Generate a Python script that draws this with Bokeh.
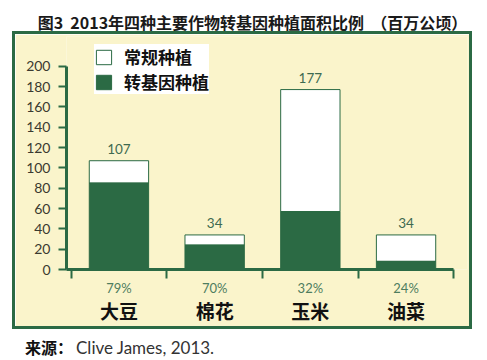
from bokeh.plotting import figure
from bokeh.models import (ColumnDataSource, Range1d, FixedTicker, LabelSet, LinearAxis,
                          Legend, LegendItem, Div)
from bokeh.layouts import column
from bokeh.core.properties import value
from bokeh.embed import file_html
from bokeh.resources import INLINE

# ---- data ----
crops = ["大豆", "棉花", "玉米", "油菜"]
total_area = [107, 34, 177, 34]          # 百万公顷
gm_area = [85, 24, 57, 8]                # 转基因种植面积
gm_share = ["79%", "70%", "32%", "24%"]
y_ticks = [0, 20, 40, 60, 80, 100, 120, 140, 160, 180, 200]
legend_labels = ["常规种植", "转基因种植"]
title_text = "图3  2013年四种主要作物转基因种植面积比例  （百万公顷）"
source_head = "来源："
source_text = "Clive James, 2013."

# ---- style ----
GREEN = "#2B6A44"
CREAM = "#FAF4CB"
VAL_COL = "#3E6A50"
PCT_COL = "#4E7D5F"
CJK = "Noto Sans CJK SC"
NUM = "Lato"

n = len(crops)
centers = [i + 0.5 for i in range(n)]
bounds_x = list(range(n + 1))
src = ColumnDataSource(dict(
    x=centers, total=total_area, gm=gm_area,
    total_str=[str(v) for v in total_area],
))

X0 = -0.048
p = figure(width=454, height=292, x_range=Range1d(X0, 4.142), y_range=Range1d(0, 229.2),
           output_backend="svg", toolbar_location=None,
           min_border_left=51, min_border_right=8, min_border_top=2, min_border_bottom=63,
           background_fill_color=CREAM, border_fill_color=CREAM, outline_line_color=None,
           margin=(0, 0, 0, 12),
           styles={"border": f"3px solid {GREEN}", "box-sizing": "content-box"})

p.xgrid.visible = False
p.ygrid.visible = False

r_conv = p.vbar(x="x", bottom="gm", top="total", width=0.62, source=src,
                fill_color="white", line_color=GREEN, line_width=1)
r_gm = p.vbar(x="x", bottom=0, top="gm", width=0.62, source=src,
              fill_color=GREEN, line_color=GREEN, line_width=1)

legend = Legend(items=[LegendItem(label=legend_labels[0], renderers=[r_conv]),
                       LegendItem(label=legend_labels[1], renderers=[r_gm])],
                location=(28, 175), background_fill_color="white", background_fill_alpha=1,
                border_line_color=None, label_text_font=CJK, label_text_font_style="bold",
                label_text_font_size="17px", label_text_color="#111111",
                glyph_width=19, glyph_height=18, label_height=18, padding=12, spacing=-5,
                label_standoff=11, margin=0)
p.add_layout(legend)

# y axis
ya = p.yaxis[0]
ya.ticker = FixedTicker(ticks=y_ticks)
ya.bounds = (0, 200)
ya.axis_line_color = GREEN
ya.axis_line_width = 3
ya.major_tick_line_color = GREEN
ya.major_tick_line_width = 2
ya.major_tick_out = 8
ya.major_tick_in = 0
ya.minor_tick_line_color = None
ya.major_label_standoff = 8
ya.major_label_text_font = NUM
ya.major_label_text_font_size = "14px"
ya.major_label_text_color = "#3A3A30"

# x axis: boundary ticks (minor) + percentage labels at category centres
xa = p.xaxis[0]
xa.ticker = FixedTicker(ticks=centers, minor_ticks=bounds_x)
xa.bounds = (X0, n)
xa.axis_line_color = GREEN
xa.axis_line_width = 3
xa.major_tick_line_color = None
xa.major_tick_out = 6
xa.major_tick_in = 0
xa.minor_tick_line_color = GREEN
xa.minor_tick_line_width = 2
xa.minor_tick_out = 9
xa.minor_tick_in = 0
xa.major_label_standoff = 1
xa.major_label_overrides = {c: s for c, s in zip(centers, gm_share)}
xa.major_label_text_font = NUM
xa.major_label_text_font_size = "13px"
xa.major_label_text_color = PCT_COL

# second x axis: crop names
xb = LinearAxis(ticker=FixedTicker(ticks=centers),
                major_label_overrides={c: s for c, s in zip(centers, crops)},
                axis_line_color=None, major_tick_line_color=None, minor_tick_line_color=None,
                major_tick_out=0, major_tick_in=0, major_label_standoff=-2,
                major_label_text_font=CJK, major_label_text_font_style="bold",
                major_label_text_font_size="19px", major_label_text_color="#111111")
p.add_layout(xb, "below")

# value labels above bars
p.add_layout(LabelSet(x="x", y="total", text="total_str", source=src, text_align="center",
                      text_baseline="bottom", y_offset=7, text_font=value(NUM),
                      text_font_size="13.5px", text_color=VAL_COL))

title = Div(text=f'<span style="position:relative;top:7px">{title_text}</span>',
            width=487, height=31, margin=0,
            styles={"text-align": "center", "white-space": "pre", "font-family": CJK,
                    "font-weight": "bold", "font-size": "16px", "line-height": "31px",
                    "color": "#1A1A1A", "text-indent": "18px"})
source = Div(text=(f'<span style="position:relative;top:3px;padding-left:25px;font-family:{CJK};'
                   f'font-weight:bold;color:#111111">{source_head}</span>'
                   f'<span style="position:relative;top:3px;margin-left:3px;font-family:{NUM};'
                   f'color:#333333;font-size:17px">{source_text}</span>'),
             width=487, height=31, margin=0,
             styles={"white-space": "pre", "font-size": "16px", "line-height": "31px"})

layout = column(title, p, source)
open("out.html", "w").write(file_html(layout, INLINE))
